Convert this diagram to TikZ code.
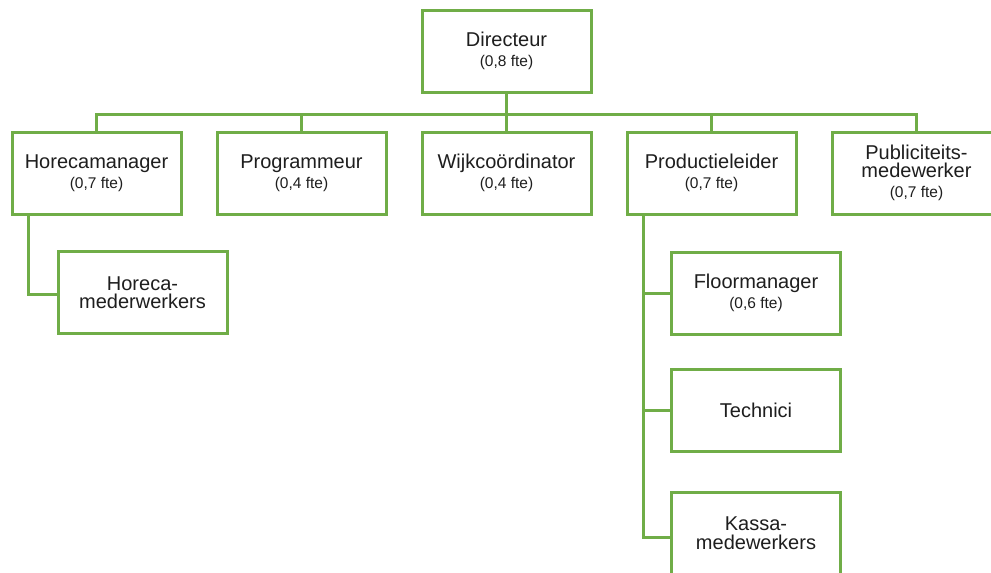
\documentclass[tikz,border=0pt]{standalone}
\usepackage{fontspec}
\setmainfont{Liberation Sans}
\definecolor{orggreen}{HTML}{70AD47}
\definecolor{orgtext}{HTML}{1E1E1E}
\newcommand\ftetxt[1]{{\fontsize{15.5}{17}\selectfont #1}}
\begin{document}
\begin{tikzpicture}[x=1pt,y=-1pt,
  orgbox/.style={draw=orggreen,line width=3pt,fill=white,minimum width=169pt,minimum height=82pt,
    align=center,inner sep=0pt,text=orgtext,font=\fontsize{20}{17}\selectfont},
  orgline/.style={draw=orggreen,line width=3pt}]
\clip (0,0) rectangle (991,573);
\useasboundingbox (0,0) rectangle (991,573);
\node[orgbox] (dir) at (506.5,51) {Directeur\\[3pt]\ftetxt{(0,8 fte)}};
\node[orgbox] (hm) at (96.5,173) {Horecamanager\\[3pt]\ftetxt{(0,7 fte)}};
\node[orgbox] (prog) at (301.5,173) {Programmeur\\[3pt]\ftetxt{(0,4 fte)}};
\node[orgbox] (wijk) at (506.5,173) {Wijkcoördinator\\[3pt]\ftetxt{(0,4 fte)}};
\node[orgbox] (prod) at (711.5,173) {Productieleider\\[3pt]\ftetxt{(0,7 fte)}};
\node[orgbox] (publ) at (916.5,173) {Publiciteits-\\[1.5pt]medewerker\\[3pt]\ftetxt{(0,7 fte)}};
\node[orgbox] (hmw) at (142.5,292.5) {Horeca-\\[1.5pt]mederwerkers};
\node[orgbox] (floor) at (756,293) {Floormanager\\[3pt]\ftetxt{(0,6 fte)}};
\node[orgbox] (tech) at (756,410) {Technici};
\node[orgbox] (kassa) at (756,533) {Kassa-\\[1.5pt]medewerkers};
\coordinate (bus) at (506.5,114);
\coordinate (hx) at ([xshift=18pt]hm.south west);
\coordinate (px) at ([xshift=18pt]prod.south west);
\draw[orgline] (hm.north) |- (bus) -| (publ.north);
\draw[orgline] (dir.south) -- (bus);
\draw[orgline] (prog.north) -- (prog.north |- bus);
\draw[orgline] (wijk.north) -- (wijk.north |- bus);
\draw[orgline] (prod.north) -- (prod.north |- bus);
\draw[orgline] (hx) |- ([yshift=-2pt]hmw.west);
\draw[orgline] (px) |- ([yshift=-4pt]kassa.west);
\draw[orgline] (floor.west) -- (floor.west -| px);
\draw[orgline] (tech.west) -- (tech.west -| px);
\end{tikzpicture}
\end{document}
